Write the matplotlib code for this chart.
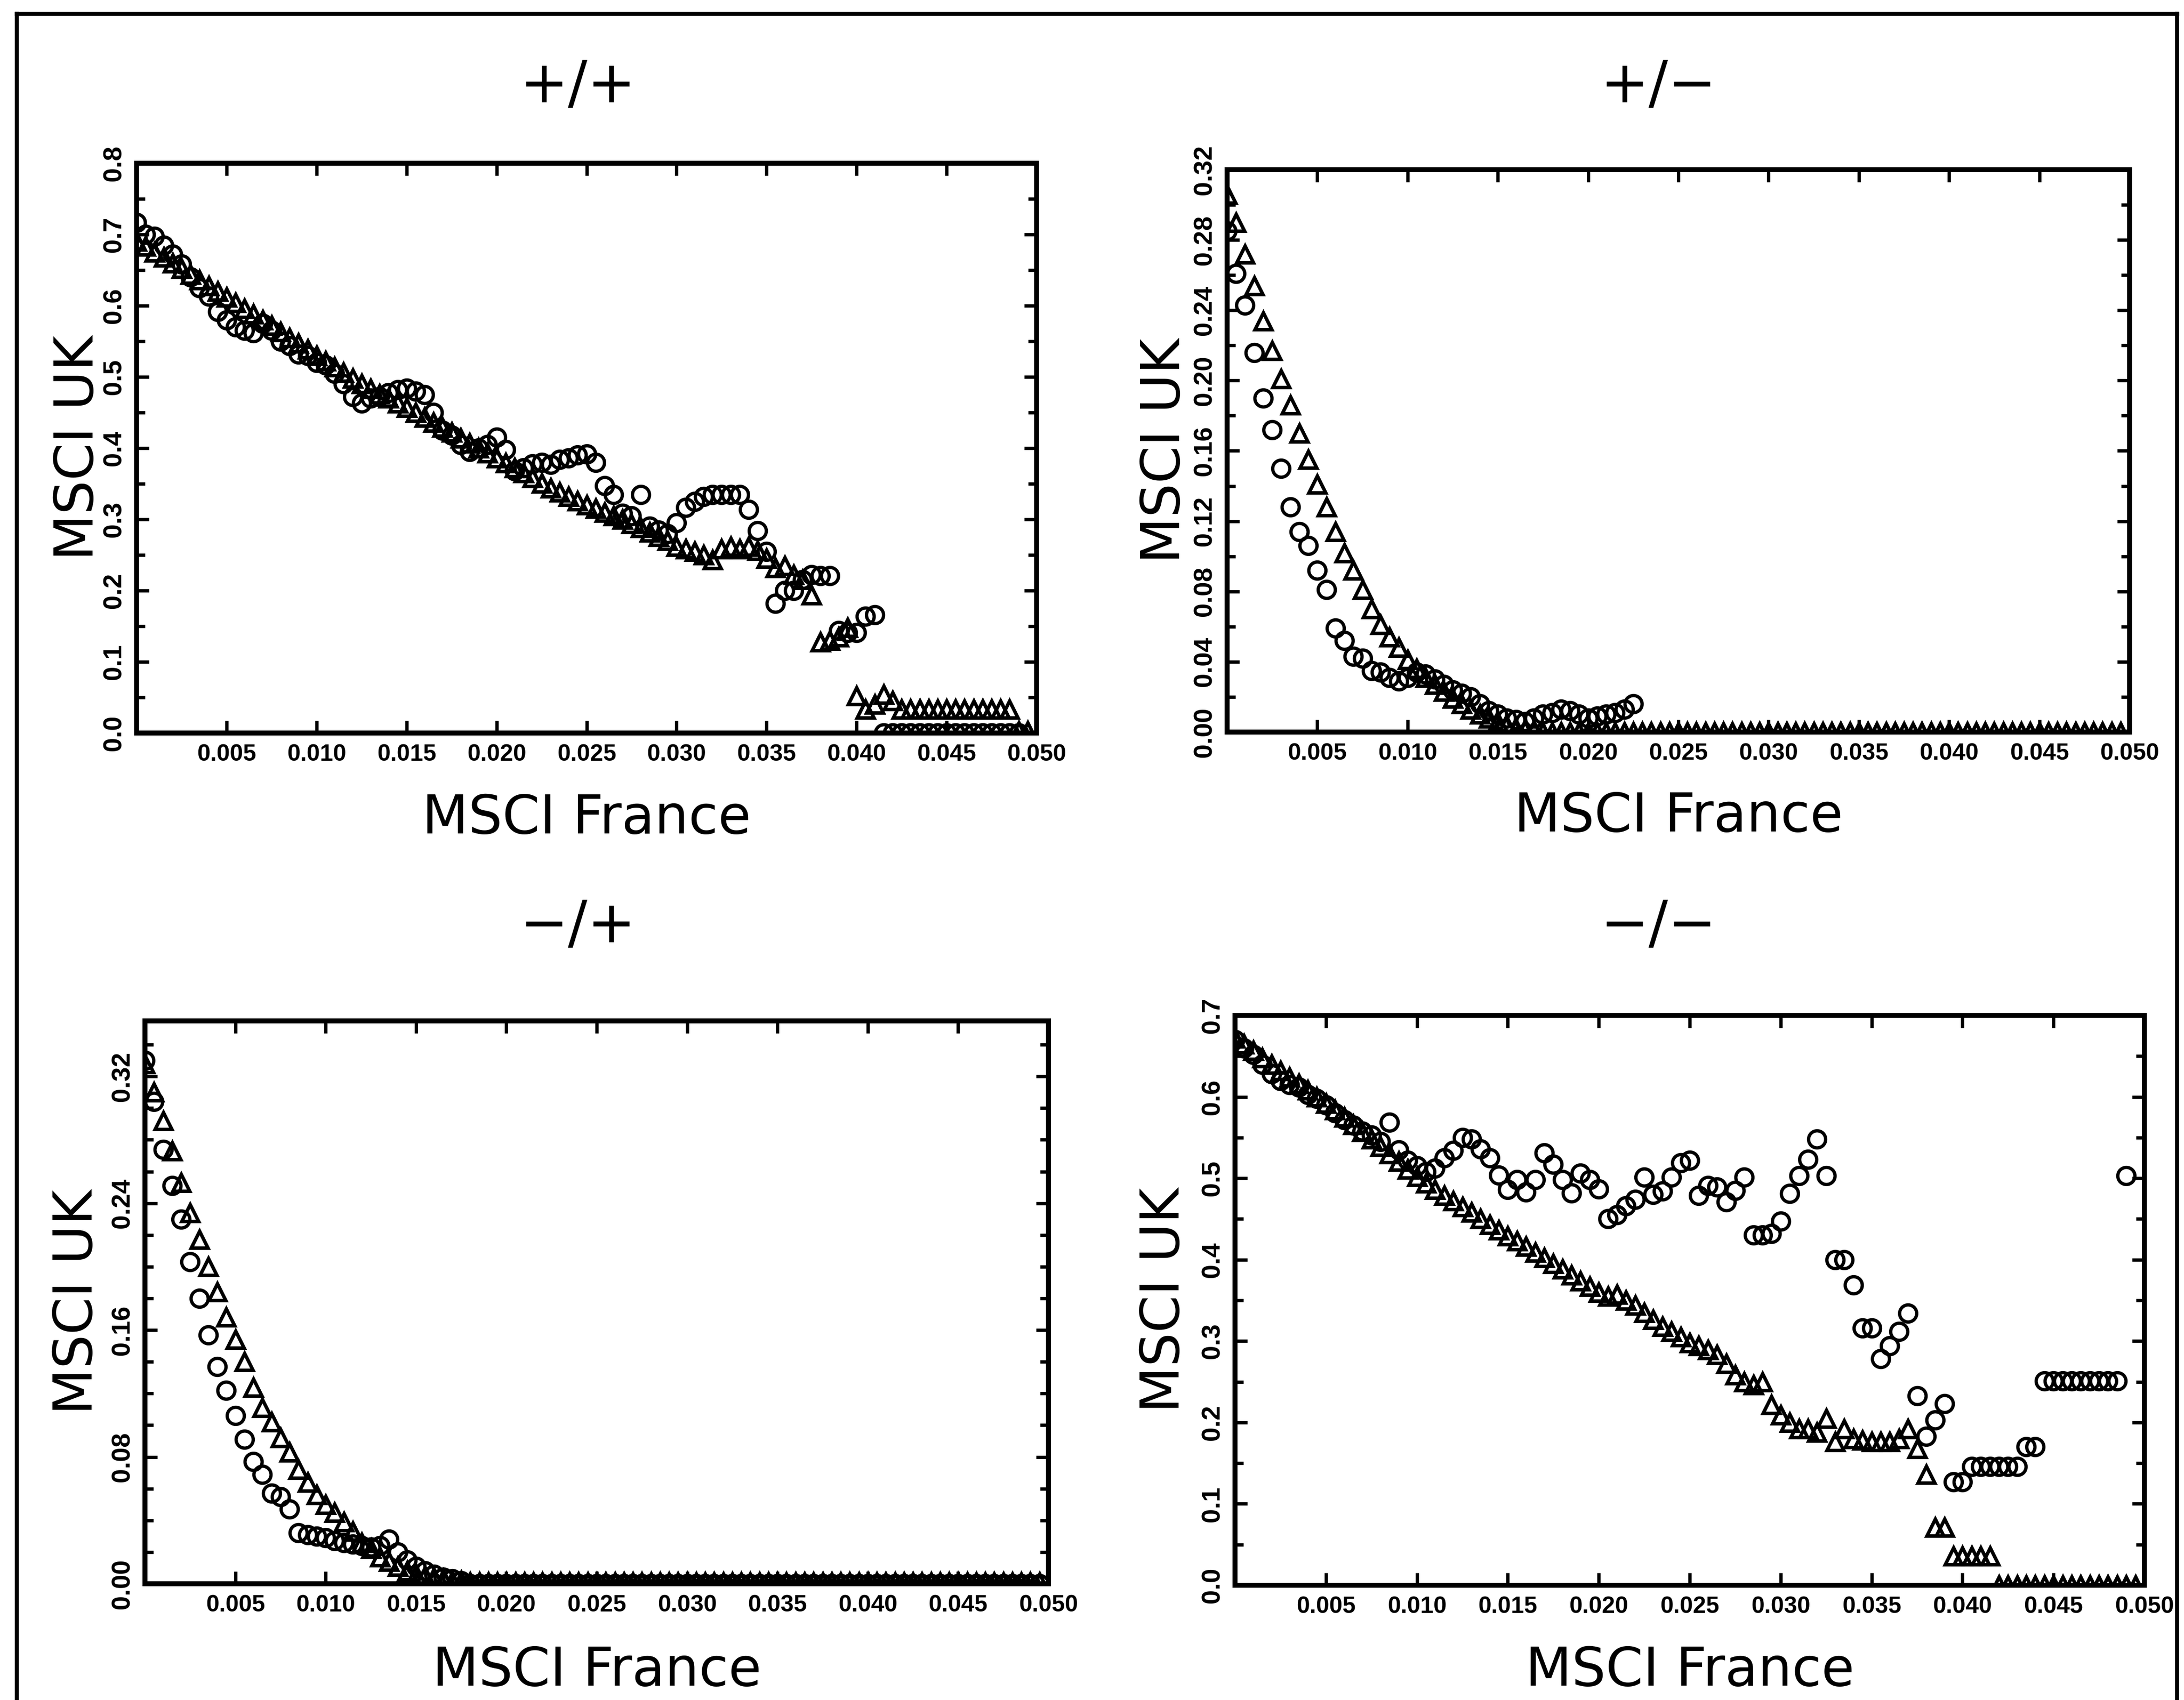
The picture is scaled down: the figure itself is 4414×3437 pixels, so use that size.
import matplotlib
matplotlib.use('Agg')
import matplotlib.pyplot as plt
from matplotlib.lines import Line2D
from matplotlib.ticker import FixedLocator, MultipleLocator
import numpy as np

W, H = 4414, 3437
DPI = 300

# every series is sampled on a regular grid of MSCI France values
x_step = 0.0005

# ---- +/+ ----
pp_circ = [0.717, 0.700, 0.697, 0.685, 0.672, 0.658, 0.640, 0.625, 0.613, 0.592,
           0.580, 0.570, 0.565, 0.562, 0.575, 0.565, 0.550, 0.544, 0.532, 0.530,
           0.520, 0.517, 0.505, 0.490, 0.472, 0.463, 0.470, 0.472, 0.478, 0.482,
           0.484, 0.480, 0.475, 0.450, 0.425, 0.418, 0.405, 0.395, 0.400, 0.405,
           0.415, 0.398, 0.368, 0.372, 0.378, 0.380, 0.377, 0.384, 0.386, 0.390,
           0.392, 0.380, 0.347, 0.335, 0.308, 0.305, 0.335, 0.290, 0.285, 0.280,
           0.295, 0.317, 0.325, 0.332, 0.335, 0.335, 0.335, 0.335, 0.314, 0.284,
           0.255, 0.182, 0.200, 0.200, 0.215, 0.222, 0.221, 0.221, 0.144, 0.141,
           0.141, 0.164, 0.166, 0.000, 0.000, 0.000, 0.000, 0.000, 0.000, 0.000,
           0.000, 0.000, 0.000, 0.000, 0.000, 0.000, 0.000, 0.000, 0.000]
pp_tri = [0.690, 0.683, 0.675, 0.668, 0.660, 0.652, 0.644, 0.636, 0.628, 0.620,
          0.612, 0.604, 0.596, 0.588, 0.580, 0.572, 0.563, 0.555, 0.547, 0.539,
          0.530, 0.522, 0.514, 0.506, 0.498, 0.490, 0.483, 0.476, 0.470, 0.463,
          0.457, 0.450, 0.443, 0.436, 0.429, 0.422, 0.414, 0.407, 0.400, 0.393,
          0.386, 0.379, 0.372, 0.365, 0.358, 0.351, 0.344, 0.338, 0.332, 0.326,
          0.320, 0.315, 0.310, 0.305, 0.300, 0.294, 0.288, 0.282, 0.276, 0.270,
          0.262, 0.258, 0.255, 0.250, 0.243, 0.258, 0.262, 0.258, 0.262, 0.256,
          0.245, 0.232, 0.235, 0.222, 0.215, 0.194, 0.128, 0.130, 0.135, 0.148,
          0.052, 0.033, 0.040, 0.054, 0.045, 0.033, 0.033, 0.033, 0.033, 0.033,
          0.033, 0.033, 0.033, 0.033, 0.033, 0.033, 0.033, 0.033, 0.003, 0.003]

# ---- +/- ----
pm_circ = [0.285, 0.261, 0.243, 0.216, 0.190, 0.172, 0.150, 0.128, 0.114, 0.106,
           0.092, 0.081, 0.059, 0.052, 0.043, 0.042, 0.035, 0.034, 0.031, 0.029,
           0.031, 0.034, 0.033, 0.030, 0.027, 0.024, 0.022, 0.020, 0.016, 0.012,
           0.010, 0.008, 0.007, 0.006, 0.008, 0.010, 0.011, 0.013, 0.012, 0.010,
           0.008, 0.009, 0.010, 0.011, 0.013, 0.016]
pm_tri = [0.306, 0.290, 0.272, 0.254, 0.234, 0.217, 0.201, 0.186, 0.170, 0.155,
          0.141, 0.128, 0.114, 0.102, 0.092, 0.081, 0.070, 0.061, 0.054, 0.048,
          0.041, 0.036, 0.031, 0.027, 0.023, 0.019, 0.016, 0.013, 0.010, 0.008,
          0.006, 0.004, 0.002, 0.001, 0.001, 0.000, 0.000, 0.000, 0.000, 0.000,
          0.000, 0.000, 0.000, 0.000, 0.000, 0.000, 0.000, 0.000, 0.000, 0.000,
          0.000, 0.000, 0.000, 0.000, 0.000, 0.000, 0.000, 0.000, 0.000, 0.000,
          0.000, 0.000, 0.000, 0.000, 0.000, 0.000, 0.000, 0.000, 0.000, 0.000,
          0.000, 0.000, 0.000, 0.000, 0.000, 0.000, 0.000, 0.000, 0.000, 0.000,
          0.000, 0.000, 0.000, 0.000, 0.000, 0.000, 0.000, 0.000, 0.000, 0.000,
          0.000, 0.000, 0.000, 0.000, 0.000, 0.000, 0.000, 0.000, 0.000, 0.000]

# ---- -/+ ----
mp_circ = [0.330, 0.304, 0.274, 0.251, 0.230, 0.203, 0.180, 0.157, 0.137, 0.122,
           0.106, 0.091, 0.077, 0.069, 0.057, 0.055, 0.047, 0.032, 0.031, 0.030,
           0.029, 0.027, 0.026, 0.025, 0.024, 0.023, 0.024, 0.028, 0.020, 0.015,
           0.011, 0.008, 0.006, 0.004, 0.003, 0.002, 0.000, 0.000, 0.000, 0.000,
           0.000, 0.000, 0.000, 0.000, 0.000, 0.000, 0.000, 0.000, 0.000, 0.000,
           0.000, 0.000, 0.000, 0.000, 0.000, 0.000, 0.000, 0.000, 0.000, 0.000,
           0.000, 0.000, 0.000, 0.000, 0.000, 0.000, 0.000, 0.000, 0.000, 0.000,
           0.000, 0.000, 0.000, 0.000, 0.000, 0.000, 0.000, 0.000, 0.000, 0.000,
           0.000, 0.000, 0.000, 0.000, 0.000, 0.000, 0.000, 0.000, 0.000, 0.000,
           0.000, 0.000, 0.000, 0.000, 0.000, 0.000, 0.000, 0.000, 0.000, 0.000]
mp_tri = [0.328, 0.310, 0.292, 0.273, 0.253, 0.234, 0.217, 0.200, 0.184, 0.168,
          0.154, 0.140, 0.124, 0.111, 0.102, 0.092, 0.083, 0.072, 0.064, 0.056,
          0.050, 0.045, 0.039, 0.033, 0.026, 0.022, 0.017, 0.014, 0.011, 0.008,
          0.006, 0.005, 0.004, 0.003, 0.002, 0.002, 0.001, 0.001, 0.001, 0.001,
          0.001, 0.001, 0.001, 0.001, 0.001, 0.001, 0.001, 0.001, 0.001, 0.001,
          0.001, 0.001, 0.001, 0.001, 0.001, 0.001, 0.001, 0.001, 0.001, 0.001,
          0.001, 0.001, 0.001, 0.001, 0.001, 0.001, 0.001, 0.001, 0.001, 0.001,
          0.001, 0.001, 0.001, 0.001, 0.001, 0.001, 0.001, 0.001, 0.001, 0.001,
          0.001, 0.001, 0.001, 0.001, 0.001, 0.001, 0.001, 0.001, 0.001, 0.001,
          0.001, 0.001, 0.001, 0.001, 0.001, 0.001, 0.001, 0.001, 0.001, 0.001]

# ---- -/- ----
mm_circ = [0.670, 0.660, 0.652, 0.640, 0.628, 0.620, 0.615, 0.612, 0.603, 0.598,
           0.590, 0.580, 0.572, 0.565, 0.558, 0.553, 0.545, 0.569, 0.535, 0.522,
           0.515, 0.508, 0.512, 0.525, 0.534, 0.550, 0.548, 0.536, 0.525, 0.504,
           0.486, 0.498, 0.483, 0.498, 0.531, 0.517, 0.498, 0.482, 0.506, 0.498,
           0.487, 0.450, 0.455, 0.466, 0.474, 0.501, 0.480, 0.484, 0.501, 0.519,
           0.522, 0.479, 0.491, 0.489, 0.471, 0.485, 0.501, 0.430, 0.430, 0.432,
           0.447, 0.481, 0.503, 0.523, 0.548, 0.503, 0.400, 0.400, 0.369, 0.316,
           0.316, 0.278, 0.294, 0.312, 0.334, 0.233, 0.183, 0.203, 0.223, 0.127,
           0.127, 0.146, 0.146, 0.146, 0.146, 0.146, 0.146, 0.170, 0.170, 0.251,
           0.251, 0.251, 0.251, 0.251, 0.251, 0.251, 0.251, 0.251, 0.503]
mm_tri = [0.672, 0.665, 0.657, 0.648, 0.640, 0.632, 0.624, 0.616, 0.608, 0.600,
          0.592, 0.584, 0.575, 0.566, 0.557, 0.548, 0.539, 0.530, 0.521, 0.511,
          0.502, 0.494, 0.486, 0.479, 0.472, 0.465, 0.458, 0.450, 0.443, 0.436,
          0.429, 0.423, 0.416, 0.409, 0.402, 0.395, 0.388, 0.381, 0.374, 0.367,
          0.360, 0.355, 0.357, 0.350, 0.344, 0.335, 0.326, 0.318, 0.312, 0.305,
          0.298, 0.294, 0.289, 0.283, 0.272, 0.258, 0.250, 0.246, 0.250, 0.222,
          0.209, 0.200, 0.192, 0.192, 0.188, 0.205, 0.176, 0.192, 0.180, 0.178,
          0.176, 0.176, 0.176, 0.180, 0.192, 0.168, 0.136, 0.071, 0.071, 0.036,
          0.036, 0.036, 0.036, 0.036, 0.000, 0.000, 0.000, 0.000, 0.000, 0.000,
          0.000, 0.000, 0.000, 0.000, 0.000, 0.000, 0.000, 0.000, 0.000, 0.000]

titles = ['+/+', '+/\u2212', '\u2212/+', '\u2212/\u2212']
xlabel = 'MSCI France'
ylabel = 'MSCI UK'
xticks = [0.005, 0.010, 0.015, 0.020, 0.025, 0.030, 0.035, 0.040, 0.045, 0.050]
xticklabels = ['0.005', '0.010', '0.015', '0.020', '0.025',
               '0.030', '0.035', '0.040', '0.045', '0.050']

pp_yticks = [0.0, 0.1, 0.2, 0.3, 0.4, 0.5, 0.6, 0.7, 0.8]
pp_ylabels = ['0.0', '0.1', '0.2', '0.3', '0.4', '0.5', '0.6', '0.7', '0.8']
pm_yticks = [0.0, 0.04, 0.08, 0.12, 0.16, 0.20, 0.24, 0.28, 0.32]
pm_ylabels = ['0.00', '0.04', '0.08', '0.12', '0.16', '0.20', '0.24', '0.28', '0.32']
mp_yticks = [0.0, 0.08, 0.16, 0.24, 0.32]
mp_ylabels = ['0.00', '0.08', '0.16', '0.24', '0.32']
mm_yticks = [0.0, 0.1, 0.2, 0.3, 0.4, 0.5, 0.6, 0.7]
mm_ylabels = ['0.0', '0.1', '0.2', '0.3', '0.4', '0.5', '0.6', '0.7']

# panel boxes in pixels: left, right, top, bottom
boxes = [(276, 2095, 330, 1482), (2480, 4304, 343, 1480),
         (293, 2119, 2064, 3202), (2496, 4334, 2053, 3205)]
title_pos = [(1168, 175), (3352, 175), (1168, 1872), (3352, 1872)]
ylab_x = [-0.065, -0.069, -0.075, -0.078]
xlab_y = [-0.150, -0.150, -0.155, -0.150]

panels = [
    (pp_circ, pp_tri, 0.8, pp_yticks, pp_ylabels, 0.05),
    (pm_circ, pm_tri, 0.32, pm_yticks, pm_ylabels, 0.02),
    (mp_circ, mp_tri, 0.355, mp_yticks, mp_ylabels, 0.02),
    (mm_circ, mm_tri, 0.7, mm_yticks, mm_ylabels, 0.05),
]

fig = plt.figure(figsize=(W / DPI, H / DPI), dpi=DPI)
fig.patch.set_facecolor('white')

for i, (circ, tri, ymax, yt, ytl, yminor) in enumerate(panels):
    l, r, t, b = boxes[i]
    ax = fig.add_axes([l / W, 1 - b / H, (r - l) / W, (b - t) / H])
    xc = np.arange(len(circ)) * x_step
    xt = np.arange(len(tri)) * x_step
    ax.plot(xc, circ, linestyle='none', marker='o', ms=8.3, mfc='none',
            mec='black', mew=1.6)
    ax.plot(xt, tri, linestyle='none', marker='^', ms=8.3, mfc='none',
            mec='black', mew=1.7)
    ax.set_xlim(0, 0.05)
    ax.set_ylim(0, ymax)
    ax.set_xticks(xticks)
    ax.set_xticklabels(xticklabels)
    ax.yaxis.set_major_locator(FixedLocator(yt))
    ax.set_yticklabels(ytl)
    ax.yaxis.set_minor_locator(MultipleLocator(yminor))
    ax.tick_params(which='both', direction='in', top=True, right=True,
                   width=1.6, colors='black')
    ax.tick_params(which='major', length=6, pad=5)
    ax.tick_params(which='minor', length=4)
    ax.tick_params(axis='y', labelrotation=90)
    for lab in ax.get_xticklabels():
        lab.set_fontfamily('Liberation Sans')
        lab.set_fontweight('bold')
        lab.set_fontsize(11.5)
    for lab in ax.get_yticklabels():
        lab.set_fontfamily('Liberation Sans')
        lab.set_fontweight('bold')
        lab.set_fontsize(12.5)
        lab.set_va('center')
    for s in ax.spines.values():
        s.set_linewidth(2.4)
    ax.set_xlabel(xlabel, fontsize=26, family='DejaVu Sans', va='center')
    ax.set_ylabel(ylabel, fontsize=26, family='DejaVu Sans', va='center')
    ax.xaxis.set_label_coords(0.5, xlab_y[i])
    ax.yaxis.set_label_coords(ylab_x[i], 0.5)
    tx, ty = title_pos[i]
    fig.text(tx / W, 1 - ty / H, titles[i], fontsize=28, family='DejaVu Sans',
             ha='center', va='center')

# frame of the scanned page
fl, fr, ft = 34 / W, 4400 / W, 1 - 28 / H
fig.add_artist(Line2D([fl, fr], [ft, ft], transform=fig.transFigure, color='black', lw=2))
fig.add_artist(Line2D([fl, fl], [0, ft], transform=fig.transFigure, color='black', lw=2))
fig.add_artist(Line2D([fr, fr], [0, ft], transform=fig.transFigure, color='black', lw=2))

fig.savefig('out.png', dpi=DPI, facecolor='white')
